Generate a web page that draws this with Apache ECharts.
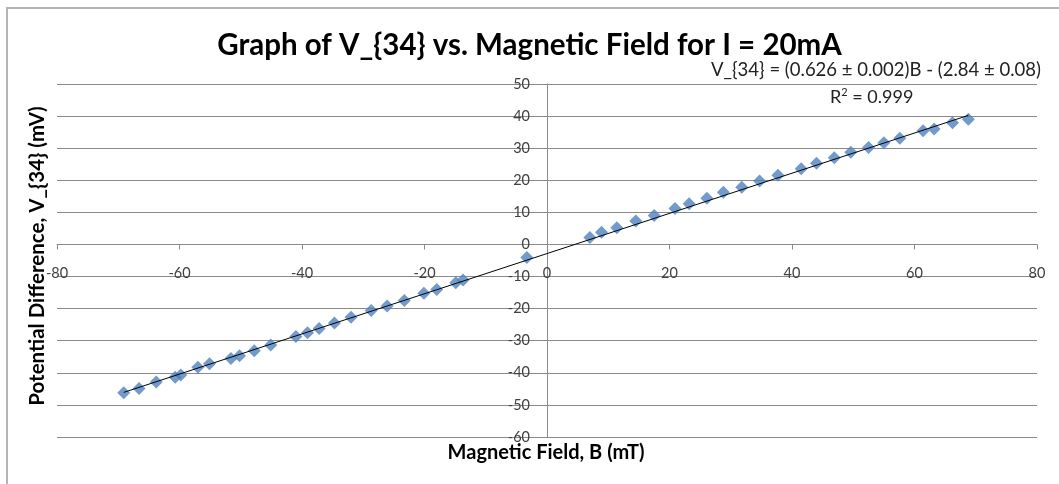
<!DOCTYPE html>
<html>
<head>
<meta charset="utf-8">
<style>
  html, body { margin: 0; padding: 0; background: #ffffff; }
  #chart { width: 1059px; height: 484px; }
</style>
<script src="https://cdn.jsdelivr.net/npm/echarts@6/dist/echarts.min.js"></script>
</head>
<body>
<div id="chart"></div>
<script>
// Measured magnetic field B (mT)
const fieldB = [
  -69.1, -66.6, -63.8, -60.7, -59.8, -57.0, -55.1, -51.6, -50.2, -47.8,
  -45.1, -41.0, -39.1, -37.2, -34.7, -32.0, -28.7, -26.1, -23.3, -20.1,
  -18.0, -14.9, -13.7, -3.3,
  7.0, 8.9, 11.4, 14.5, 17.5, 20.9, 23.2, 26.1, 28.8, 31.8,
  34.7, 37.7, 41.5, 44.0, 46.9, 49.6, 52.5, 55.0, 57.6, 61.4,
  63.2, 66.2, 68.8
];
// Measured Hall voltage V_{34} (mV)
const voltage = [
  -46.2, -44.9, -42.9, -41.4, -40.7, -38.3, -37.2, -35.5, -34.7, -33.1,
  -31.3, -28.7, -27.5, -26.2, -24.5, -22.7, -20.6, -19.2, -17.5, -15.2,
  -14.0, -11.9, -11.1, -4.1,
  2.2, 3.8, 5.2, 7.3, 9.0, 11.2, 12.7, 14.4, 16.3, 17.8,
  19.8, 21.6, 23.6, 25.3, 27.0, 28.7, 30.2, 31.7, 33.1, 35.4,
  36.0, 37.9, 39.0
];
// Linear fit parameters (as printed in the equation label)
const fitSlope = 0.626;
const fitIntercept = -2.84;

const xTicks = { min: -80, max: 80, step: 20 };
const yTicks = { min: -60, max: 50, step: 10 };

const titleText = 'Graph of V_{34} vs. Magnetic Field for I = 20mA';
const equationText = 'V_{34} = (0.626 \u00B1 0.002)B - (2.84 \u00B1 0.08)';
const xName = 'Magnetic Field, B (mT)';
const yName = 'Potential Difference, V_{34} (mV)';

const points = fieldB.map((b, i) => [b, voltage[i]]);
const bMin = Math.min(...fieldB);
const bMax = Math.max(...fieldB);
const fitLine = [
  [bMin, fitSlope * bMin + fitIntercept],
  [bMax, fitSlope * bMax + fitIntercept]
];

const W = 1059, H = 484;
const grid = { left: 57, right: 22, top: 84, bottom: 47 };
const gridW = W - grid.left - grid.right;
const gridH = H - grid.top - grid.bottom;
// Shift each axis from the plot edge to the other axis's zero
const xAxisOffset = -gridH * (0 - yTicks.min) / (yTicks.max - yTicks.min);
const yAxisOffset = -gridW * (0 - xTicks.min) / (xTicks.max - xTicks.min);

const FONT = 'Lato, "Open Sans", sans-serif';
const gridColor = '#8a8a8a';
const labelColor = '#404040';

const chart = echarts.init(document.getElementById('chart'), null, { renderer: 'canvas' });
chart.setOption({
  backgroundColor: '#ffffff',
  animation: false,
  title: {
    text: titleText,
    left: 'center',
    top: 25,
    textStyle: { fontFamily: FONT, fontSize: 29.5, fontWeight: 'bold', color: '#000000' }
  },
  graphic: [
    {
      type: 'polyline',
      shape: { points: [[7, 500], [7, 8], [1070, 8]] },
      style: { stroke: '#b4b4b4', lineWidth: 2, fill: null },
      silent: true
    },
    {
      type: 'text',
      right: 18,
      top: 61,
      style: { text: equationText, fontFamily: FONT, fontSize: 18.5, fill: '#222222' }
    },
    {
      type: 'text',
      left: 830,
      top: 87,
      style: {
        text: '{n|R}{s|2}{n| = 0.999}',
        rich: {
          n: { fontFamily: FONT, fontSize: 18, fill: '#222222' },
          s: { fontFamily: FONT, fontSize: 11, fill: '#222222', padding: [0, 0, 9, 0] }
        }
      }
    },
    {
      type: 'text',
      x: 546,
      y: 453,
      style: {
        text: xName, fontFamily: FONT, fontSize: 20, fontWeight: 'bold', fill: '#000000',
        align: 'center', verticalAlign: 'middle'
      }
    },
    {
      type: 'text',
      x: 37,
      y: 256,
      rotation: Math.PI / 2,
      style: {
        text: yName, fontFamily: FONT, fontSize: 20.5, fontWeight: 'bold', fill: '#000000',
        align: 'center', verticalAlign: 'middle'
      }
    }
  ],
  grid: {
    left: grid.left, right: grid.right, top: grid.top, bottom: grid.bottom,
    containLabel: false,
    outerBoundsMode: 'none'
  },
  xAxis: {
    type: 'value',
    min: xTicks.min,
    max: xTicks.max,
    interval: xTicks.step,
    position: 'bottom',
    offset: xAxisOffset,
    axisLine: { onZero: false, lineStyle: { color: gridColor, width: 1 } },
    axisTick: { show: true, inside: false, length: 5, lineStyle: { color: gridColor } },
    axisLabel: { margin: 21, fontFamily: FONT, fontSize: 14.5, color: labelColor },
    splitLine: { show: false }
  },
  yAxis: {
    type: 'value',
    min: yTicks.min,
    max: yTicks.max,
    interval: yTicks.step,
    position: 'left',
    offset: yAxisOffset,
    axisLine: { onZero: false, lineStyle: { color: gridColor, width: 1 } },
    axisTick: { show: false },
    axisLabel: { margin: 17, fontFamily: FONT, fontSize: 14.5, color: labelColor },
    splitLine: { show: true, lineStyle: { color: gridColor, width: 1 } }
  },
  series: [
    {
      type: 'line',
      data: fitLine,
      showSymbol: false,
      symbol: 'none',
      lineStyle: { color: '#000000', width: 1 },
      z: 3,
      silent: true
    },
    {
      type: 'scatter',
      data: points,
      symbol: 'diamond',
      symbolSize: 13,
      itemStyle: { color: '#4f81bd' },
      z: 2
    }
  ]
});
</script>
</body>
</html>
